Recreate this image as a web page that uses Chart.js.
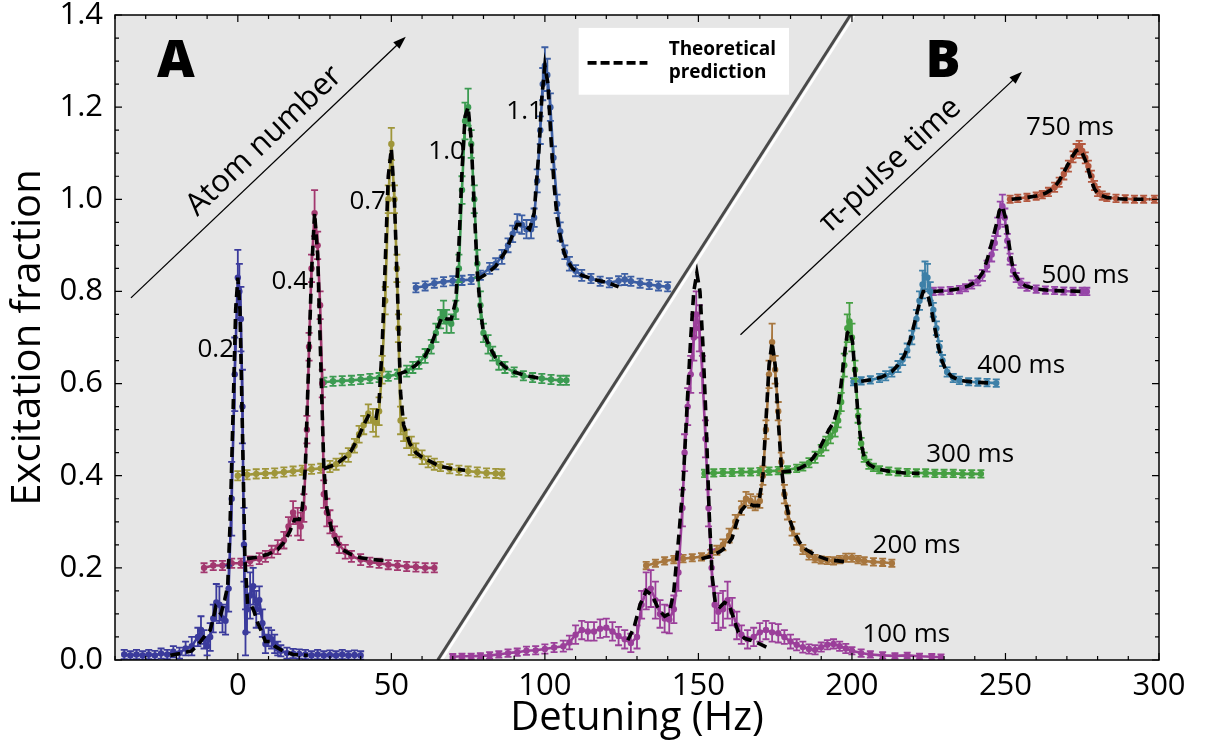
<!DOCTYPE html>
<html>
<head>
<meta charset="utf-8">
<script src="https://cdn.jsdelivr.net/npm/chart.js@4.4.1/dist/chart.umd.min.js"></script>
<style>
  html, body { margin: 0; padding: 0; background: #fff; }
</style>
</head>
<body>
<canvas id="chart" width="1208" height="753"></canvas>
<script>
'use strict';
// measured points as [detuning Hz, excitation fraction, error bar]
let atom02 = [[-37,0.012,0.01],[-35,0.01,0.009],[-33,0.012,0.01],[-31,0.01,0.009],[-29,0.012,0.01],[-27,0.01,0.01],[-25,0.014,0.011],[-23,0.012,0.01],[-21,0.018,0.012],[-19,0.015,0.012],[-17,0.025,0.015],[-15,0.03,0.02],[-13,0.05,0.02],[-12,0.065,0.03],[-11,0.045,0.02],[-10,0.03,0.02],[-9,0.05,0.03],[-8,0.09,0.03],[-7,0.125,0.04],[-6,0.12,0.04],[-5,0.09,0.03],[-4,0.085,0.03],[-3,0.155,0.05],[-2,0.35,0.08],[-1,0.62,0.08],[0,0.83,0.06],[0.5,0.80,0.06],[1,0.74,0.07],[1.5,0.55,0.08],[2,0.25,0.08],[2.5,0.06,0.05],[3,0.11,0.05],[4,0.14,0.05],[5,0.16,0.04],[6,0.11,0.04],[7,0.13,0.03],[8,0.08,0.03],[9,0.035,0.02],[10,0.05,0.02],[11,0.045,0.02],[12,0.035,0.02],[13,0.025,0.015],[14,0.02,0.012],[16,0.015,0.012],[18,0.014,0.01],[20,0.013,0.01],[22,0.012,0.01],[24,0.01,0.009],[26,0.012,0.01],[28,0.01,0.009],[30,0.011,0.01],[32,0.01,0.009],[34,0.012,0.01],[36,0.01,0.009],[38,0.011,0.01],[40,0.01,0.009]];
let atom04 = [[-11,0.20,0.01],[-8,0.205,0.01],[-5,0.205,0.01],[-2,0.21,0.01],[1,0.21,0.01],[4,0.215,0.01],[7,0.22,0.012],[9,0.225,0.012],[11,0.235,0.013],[13,0.245,0.015],[15,0.26,0.018],[16.5,0.29,0.02],[18,0.32,0.025],[19.5,0.30,0.03],[20.5,0.29,0.03],[21.5,0.33,0.03],[22.5,0.50,0.03],[23.2,0.68,0.03],[24,0.85,0.03],[25,0.97,0.05],[26,0.90,0.03],[26.8,0.77,0.03],[27.5,0.60,0.03],[28,0.36,0.03],[29,0.32,0.03],[30,0.30,0.025],[31.5,0.27,0.02],[33,0.25,0.018],[35,0.235,0.015],[37,0.225,0.012],[40,0.218,0.012],[43,0.212,0.01],[46,0.21,0.01],[49,0.207,0.01],[52,0.205,0.01],[55,0.203,0.01],[58,0.202,0.01],[61,0.20,0.01],[64,0.20,0.01]];
let atom07 = [[0,0.40,0.01],[3,0.402,0.01],[6,0.404,0.01],[9,0.405,0.01],[12,0.406,0.01],[15,0.408,0.01],[18,0.41,0.01],[21,0.412,0.01],[24,0.414,0.01],[27,0.416,0.01],[30,0.42,0.012],[32,0.425,0.012],[34,0.435,0.013],[36,0.445,0.015],[38,0.465,0.015],[39.5,0.49,0.018],[41,0.51,0.02],[42.5,0.535,0.02],[44,0.52,0.025],[45,0.515,0.03],[46,0.54,0.03],[47,0.63,0.03],[48,0.78,0.03],[49,1.0,0.03],[50,1.12,0.035],[51,1.0,0.03],[51.8,0.85,0.03],[52.3,0.72,0.03],[53,0.52,0.03],[54,0.50,0.025],[55,0.48,0.02],[56.5,0.465,0.02],[58,0.455,0.015],[60,0.44,0.015],[62,0.43,0.012],[64,0.425,0.012],[66,0.42,0.01],[69,0.415,0.01],[72,0.412,0.01],[75,0.41,0.01],[78,0.408,0.01],[81,0.406,0.01],[84,0.405,0.01],[86,0.404,0.01]];
let atom10 = [[28,0.603,0.01],[31,0.605,0.01],[34,0.606,0.01],[37,0.607,0.01],[40,0.609,0.01],[43,0.611,0.01],[46,0.613,0.01],[49,0.616,0.01],[52,0.62,0.01],[55,0.627,0.012],[57,0.635,0.012],[59,0.645,0.013],[61,0.66,0.015],[63,0.68,0.015],[64.5,0.71,0.02],[66,0.74,0.02],[67,0.755,0.025],[68,0.735,0.025],[69.5,0.73,0.02],[71,0.76,0.02],[72,0.85,0.03],[73,1.02,0.03],[74,1.17,0.04],[75,1.20,0.04],[76,1.12,0.03],[77,1.0,0.03],[78,0.86,0.03],[79,0.77,0.03],[80,0.71,0.02],[81.5,0.685,0.02],[83,0.665,0.015],[85,0.645,0.015],[87,0.635,0.012],[90,0.625,0.01],[93,0.617,0.01],[96,0.613,0.01],[99,0.611,0.01],[102,0.609,0.01],[105,0.607,0.01],[107,0.607,0.01]];
let atom11 = [[58,0.808,0.01],[61,0.812,0.01],[64,0.818,0.01],[67,0.821,0.01],[70,0.823,0.01],[73,0.824,0.01],[76,0.826,0.01],[79,0.835,0.01],[82,0.85,0.012],[84,0.86,0.012],[86,0.875,0.015],[88,0.9,0.015],[89.5,0.925,0.018],[91,0.948,0.02],[92.5,0.945,0.02],[94,0.935,0.02],[95.5,0.935,0.02],[96.5,0.96,0.02],[97.5,1.04,0.025],[98.5,1.15,0.03],[99.3,1.25,0.035],[100,1.29,0.04],[100.8,1.27,0.035],[101.8,1.2,0.03],[102.8,1.09,0.025],[104,0.99,0.02],[105,0.93,0.02],[106.5,0.885,0.015],[108,0.86,0.015],[110,0.845,0.012],[112,0.835,0.012],[115,0.828,0.01],[118,0.822,0.01],[121,0.819,0.01],[124,0.823,0.01],[126,0.826,0.012],[128,0.822,0.01],[131,0.818,0.01],[134,0.815,0.01],[137,0.812,0.01],[140,0.81,0.01]];
let pulse100 = [[70,0.007,0.006],[73,0.008,0.006],[76,0.008,0.006],[79,0.009,0.006],[82,0.01,0.007],[85,0.012,0.007],[88,0.015,0.008],[91,0.017,0.008],[94,0.02,0.009],[97,0.021,0.009],[100,0.024,0.01],[103,0.027,0.01],[106,0.03,0.012],[108,0.038,0.015],[110,0.055,0.02],[112,0.065,0.02],[114,0.062,0.02],[116,0.062,0.02],[118,0.068,0.02],[120,0.07,0.02],[122,0.062,0.02],[124,0.052,0.02],[126,0.045,0.02],[128,0.037,0.02],[130,0.05,0.025],[131.5,0.12,0.03],[133,0.15,0.04],[134.5,0.155,0.04],[136,0.13,0.04],[137.5,0.10,0.03],[139,0.09,0.03],[140.5,0.088,0.03],[142,0.11,0.03],[143.5,0.19,0.04],[144.8,0.33,0.04],[145.5,0.45,0.04],[146.5,0.55,0.04],[147.5,0.62,0.04],[148.5,0.7,0.05],[149.3,0.75,0.05],[150.3,0.72,0.05],[151.3,0.62,0.04],[152.3,0.48,0.04],[153.3,0.33,0.04],[154.3,0.2,0.04],[155.3,0.12,0.04],[156.5,0.105,0.04],[158,0.11,0.04],[159.5,0.13,0.04],[161,0.105,0.03],[162.5,0.075,0.03],[164,0.055,0.02],[166,0.045,0.02],[168,0.05,0.02],[170,0.06,0.02],[172,0.065,0.02],[174,0.06,0.02],[176,0.058,0.02],[178,0.05,0.015],[180,0.04,0.015],[182,0.033,0.012],[184,0.028,0.012],[186,0.024,0.01],[188,0.022,0.01],[190,0.028,0.01],[192,0.033,0.01],[194,0.035,0.01],[196,0.03,0.01],[198,0.025,0.01],[200,0.02,0.008],[203,0.015,0.008],[206,0.012,0.007],[210,0.01,0.007],[214,0.009,0.006],[218,0.01,0.006],[222,0.008,0.006],[226,0.007,0.006],[229,0.006,0.006]];
let pulse200 = [[133,0.205,0.008],[136,0.21,0.008],[139,0.215,0.008],[142,0.218,0.008],[145,0.22,0.008],[148,0.222,0.008],[151,0.224,0.008],[154,0.23,0.009],[156,0.238,0.01],[158,0.25,0.012],[160,0.27,0.015],[162,0.3,0.015],[164,0.33,0.015],[165.5,0.35,0.015],[167,0.345,0.015],[168.5,0.34,0.015],[170,0.345,0.015],[171,0.4,0.02],[172,0.5,0.02],[173,0.62,0.03],[174,0.69,0.04],[175,0.63,0.03],[176,0.54,0.02],[177,0.43,0.02],[178,0.36,0.02],[179,0.32,0.015],[180.5,0.285,0.015],[182,0.262,0.012],[184,0.24,0.01],[186,0.228,0.01],[188,0.22,0.008],[190,0.217,0.008],[192,0.216,0.008],[194,0.215,0.008],[196,0.218,0.008],[198,0.222,0.009],[200,0.222,0.009],[202,0.218,0.008],[204,0.215,0.008],[207,0.213,0.008],[210,0.212,0.008],[213,0.21,0.008]];
let pulse300 = [[152,0.405,0.008],[155,0.406,0.008],[158,0.407,0.008],[161,0.407,0.008],[164,0.408,0.008],[167,0.408,0.008],[170,0.409,0.008],[173,0.41,0.008],[176,0.411,0.008],[179,0.413,0.008],[182,0.416,0.008],[184,0.42,0.009],[186,0.428,0.01],[188,0.44,0.012],[190,0.455,0.012],[191.5,0.47,0.015],[193,0.485,0.015],[194.5,0.5,0.015],[195.5,0.52,0.015],[196.5,0.56,0.02],[197.5,0.64,0.025],[198.5,0.72,0.03],[199.2,0.735,0.04],[200,0.70,0.03],[201,0.63,0.02],[202,0.53,0.015],[203,0.47,0.012],[204,0.44,0.01],[205.5,0.425,0.01],[207,0.418,0.008],[209,0.413,0.008],[212,0.41,0.008],[215,0.408,0.008],[218,0.407,0.008],[221,0.406,0.008],[224,0.406,0.008],[227,0.405,0.008],[230,0.405,0.008],[233,0.405,0.008],[236,0.404,0.008],[239,0.404,0.008],[242,0.404,0.008]];
let pulse400 = [[200.5,0.604,0.008],[203,0.606,0.008],[206,0.608,0.008],[209,0.612,0.009],[211,0.617,0.01],[213,0.625,0.01],[215,0.637,0.012],[216.5,0.652,0.012],[218,0.672,0.015],[219.5,0.7,0.015],[221,0.74,0.02],[222,0.78,0.02],[223,0.815,0.03],[223.8,0.835,0.03],[224.6,0.83,0.03],[225.5,0.80,0.02],[226.5,0.76,0.015],[227.5,0.72,0.015],[228.5,0.68,0.012],[229.5,0.65,0.012],[231,0.625,0.01],[233,0.612,0.009],[235,0.607,0.008],[238,0.604,0.008],[241,0.603,0.008],[244,0.602,0.008],[247,0.601,0.008]];
let pulse500 = [[226.5,0.80,0.008],[229,0.801,0.008],[232,0.802,0.008],[235,0.804,0.008],[237,0.808,0.008],[239,0.815,0.009],[241,0.823,0.01],[242.5,0.835,0.012],[244,0.855,0.012],[245.5,0.88,0.015],[246.5,0.905,0.015],[247.5,0.94,0.02],[248.3,0.97,0.025],[249,0.985,0.025],[249.8,0.96,0.02],[250.6,0.91,0.015],[251.5,0.87,0.012],[252.5,0.845,0.012],[253.5,0.83,0.01],[255,0.818,0.01],[257,0.81,0.009],[260,0.805,0.008],[263,0.803,0.008],[266,0.802,0.008],[269,0.801,0.008],[272,0.80,0.008],[275,0.80,0.008],[276.5,0.80,0.008]];
let pulse750 = [[251.5,1.0,0.008],[254,1.002,0.008],[257,1.004,0.008],[260,1.007,0.008],[262,1.01,0.008],[264,1.016,0.009],[266,1.026,0.01],[267.5,1.037,0.01],[269,1.055,0.012],[270.5,1.072,0.012],[272,1.092,0.012],[273,1.105,0.015],[274,1.112,0.015],[275,1.105,0.015],[276,1.09,0.012],[277,1.072,0.012],[278,1.05,0.012],[279,1.03,0.01],[280,1.017,0.01],[281.5,1.008,0.009],[283,1.004,0.008],[286,1.002,0.008],[289,1.001,0.008],[292,1.0,0.008],[295,1.0,0.008],[298.5,1.0,0.008]];

// theoretical prediction curves as [detuning Hz, excitation fraction]
let theory02 = [[-22,0.01],[-18,0.015],[-15,0.02],[-13,0.033],[-11,0.05],[-9,0.065],[-8,0.09],[-7.2,0.115],[-5.5,0.1],[-4.3,0.13],[-3.3,0.16],[-2.5,0.3],[-1.5,0.55],[-0.7,0.76],[0,0.83],[0.7,0.76],[1.5,0.5],[2.3,0.22],[3.2,0.12],[4.3,0.12],[5.3,0.105],[6.5,0.08],[7.5,0.065],[9,0.04],[10.4,0.04],[12,0.03],[14.6,0.02],[18,0.012],[22.8,0.01]];
let theory04 = [[3,0.22],[7,0.224],[10,0.23],[13,0.24],[15,0.255],[17,0.28],[18.5,0.305],[20,0.305],[21,0.33],[22,0.42],[23,0.63],[24,0.84],[25,0.97],[26,0.88],[27,0.65],[28,0.42],[29,0.33],[30.5,0.285],[32,0.258],[34,0.24],[37,0.229],[40,0.222],[44,0.218],[48.8,0.215]];
let theory07 = [[28,0.415],[32,0.425],[35,0.44],[37,0.455],[39,0.48],[41,0.51],[42.5,0.53],[44,0.525],[45,0.525],[46,0.56],[47,0.68],[48,0.86],[49,1.05],[50,1.11],[51,1.0],[52,0.8],[53,0.58],[54,0.51],[55,0.49],[56,0.47],[58,0.45],[60,0.44],[63,0.43],[66,0.42],[70,0.415],[74,0.412]];
let theory10 = [[52,0.62],[55,0.627],[58,0.64],[61,0.66],[63,0.685],[65,0.72],[66.5,0.745],[68,0.74],[69.5,0.74],[71,0.78],[72,0.9],[73,1.06],[74,1.18],[75,1.2],[76,1.13],[77,0.98],[78,0.84],[79,0.76],[80,0.71],[82,0.68],[84,0.655],[87,0.636],[90,0.625],[94,0.617],[98,0.612]];
let theory11 = [[78,0.826],[81,0.838],[84,0.855],[87,0.885],[89,0.915],[91,0.945],[93,0.945],[95,0.935],[96.5,0.97],[98,1.1],[99,1.22],[100,1.29],[101,1.25],[102,1.13],[103,1.03],[104,0.96],[105.5,0.9],[107,0.87],[109,0.85],[112,0.835],[116,0.826],[120,0.82],[124,0.81]];
let theory100 = [[127,0.043],[129,0.07],[131,0.12],[133,0.15],[135,0.14],[137,0.11],[139,0.095],[140.5,0.1],[142,0.15],[143.5,0.26],[145,0.38],[146.3,0.55],[147.5,0.7],[148.5,0.8],[149.5,0.84],[150.5,0.8],[151.5,0.68],[152.5,0.52],[153.5,0.32],[154.5,0.18],[155.5,0.125],[157,0.115],[158.5,0.125],[160,0.12],[161.5,0.09],[163,0.06],[165,0.047],[167,0.043],[170,0.035],[173,0.025]];
let theory200 = [[151,0.22],[154,0.225],[157,0.235],[159,0.245],[161,0.265],[162.5,0.3],[164,0.325],[166,0.34],[168,0.335],[169.5,0.335],[171,0.4],[172,0.52],[173,0.64],[174,0.69],[175,0.64],[176,0.52],[177,0.42],[178,0.36],[179.5,0.31],[181,0.28],[183,0.255],[185,0.24],[188,0.228],[192,0.218],[198,0.213]];
let theory300 = [[177,0.408],[180,0.41],[183,0.416],[185.5,0.425],[187.5,0.44],[189.5,0.46],[191,0.48],[192.5,0.5],[194,0.515],[195.5,0.55],[196.5,0.6],[197.5,0.66],[198.5,0.71],[199.3,0.715],[200.2,0.69],[201,0.62],[202,0.53],[203,0.47],[204,0.44],[205.5,0.425],[208,0.415],[212,0.41],[217,0.406],[222,0.405]];
let theory400 = [[203,0.605],[207,0.609],[210,0.615],[213,0.626],[215,0.64],[217,0.66],[219,0.695],[220.5,0.735],[222,0.775],[223.2,0.8],[224,0.8],[225,0.785],[226,0.755],[227,0.72],[228,0.685],[229,0.655],[230.5,0.63],[232.5,0.615],[235,0.607],[240,0.603],[246,0.601]];
let theory500 = [[226.5,0.80],[231,0.802],[235,0.806],[238,0.812],[240.5,0.822],[242.5,0.84],[244,0.868],[245.5,0.905],[247,0.945],[248,0.975],[249,0.985],[250,0.96],[251,0.91],[252,0.865],[253,0.838],[254.5,0.822],[256.5,0.812],[260,0.805],[265,0.802],[270,0.801],[275,0.80]];
let theory750 = [[252,1.0],[256,1.003],[260,1.007],[263,1.013],[265.5,1.023],[267.5,1.04],[269.5,1.065],[271.5,1.09],[273,1.105],[274,1.108],[275,1.1],[276,1.085],[277,1.063],[278,1.04],[279,1.022],[280.5,1.01],[283,1.004],[287,1.001],[292,1.0],[297,1.0]];

let xTickValues = [0, 50, 100, 150, 200, 250, 300];
let yTickValues = [0, 0.2, 0.4, 0.6, 0.8, 1.0, 1.2, 1.4];
let atomLabels = ['0.2', '0.4', '0.7', '1.0', '1.1'];
let pulseLabels = ['100 ms', '200 ms', '300 ms', '400 ms', '500 ms', '750 ms'];

let measured = [atom02, atom04, atom07, atom10, atom11, pulse100, pulse200, pulse300, pulse400, pulse500, pulse750];
let theories = [theory02, theory04, theory07, theory10, theory11, theory100, theory200, theory300, theory400, theory500, theory750];
let colors = ['#3b3b9c', '#a2386f', '#9f963a', '#3c9b52', '#3d5fa4', '#9b3f9a', '#a8773f', '#46a043', '#3e80a8', '#9646a8', '#b4583f'];

let FONT = '"Open Sans", "DejaVu Sans", sans-serif';

let datasets = [];
for (let i = 0; i < measured.length; i++) {
  datasets.push({
    data: measured[i].map(p => ({x: p[0], y: p[1]})),
    errs: measured[i].map(p => p[2]),
    showLine: true,
    borderColor: colors[i],
    backgroundColor: colors[i],
    borderWidth: 2.6,
    pointRadius: 3.2,
    pointBorderWidth: 0,
    order: 1
  });
}
for (let i = 0; i < theories.length; i++) {
  datasets.push({
    data: theories[i].map(p => ({x: p[0], y: p[1]})),
    showLine: true,
    borderColor: '#000',
    borderWidth: 3.6,
    borderDash: [10, 6],
    pointRadius: 0,
    order: 0
  });
}

// error bars drawn from the dataset's errs array through the chart scales
let errorBars = {
  id: 'errorBars',
  afterDatasetDraw(chart, args) {
    let ds = chart.data.datasets[args.index];
    if (!ds.errs) return;
    let ctx = chart.ctx;
    let xs = chart.scales.x;
    let ys = chart.scales.y;
    let area = chart.chartArea;
    ctx.save();
    ctx.beginPath();
    ctx.rect(area.left, area.top, area.right - area.left, area.bottom - area.top);
    ctx.clip();
    ctx.strokeStyle = ds.borderColor;
    ctx.lineWidth = 1.8;
    ds.data.forEach((p, i) => {
      let e = ds.errs[i];
      let x = xs.getPixelForValue(p.x);
      let y1 = ys.getPixelForValue(p.y - e);
      let y2 = ys.getPixelForValue(p.y + e);
      ctx.beginPath();
      ctx.moveTo(x, y1); ctx.lineTo(x, y2);
      ctx.moveTo(x - 3.5, y1); ctx.lineTo(x + 3.5, y1);
      ctx.moveTo(x - 3.5, y2); ctx.lineTo(x + 3.5, y2);
      ctx.stroke();
    });
    ctx.restore();
  }
};

// grey panel behind the data
let panelBackground = {
  id: 'panelBackground',
  beforeDraw(chart) {
    let ctx = chart.ctx;
    let a = chart.chartArea;
    ctx.save();
    ctx.fillStyle = '#fff';
    ctx.fillRect(0, 0, chart.width, chart.height);
    ctx.fillStyle = '#e6e6e6';
    ctx.fillRect(a.left, a.top, a.right - a.left, a.bottom - a.top);
    ctx.restore();
  }
};

function drawArrow(ctx, x1, y1, x2, y2) {
  let ang = Math.atan2(y2 - y1, x2 - x1);
  ctx.beginPath();
  ctx.moveTo(x1, y1);
  ctx.lineTo(x2 - 8 * Math.cos(ang), y2 - 8 * Math.sin(ang));
  ctx.stroke();
  ctx.beginPath();
  ctx.moveTo(x2, y2);
  ctx.lineTo(x2 - 13 * Math.cos(ang) + 4.5 * Math.sin(ang), y2 - 13 * Math.sin(ang) - 4.5 * Math.cos(ang));
  ctx.lineTo(x2 - 13 * Math.cos(ang) - 4.5 * Math.sin(ang), y2 - 13 * Math.sin(ang) + 4.5 * Math.cos(ang));
  ctx.closePath();
  ctx.fill();
}

function arrowText(ctx, x1, y1, x2, y2, t, off, text) {
  let ang = Math.atan2(y2 - y1, x2 - x1);
  let cx = x1 + (x2 - x1) * t + off * Math.sin(ang);
  let cy = y1 + (y2 - y1) * t - off * Math.cos(ang);
  ctx.save();
  ctx.translate(cx, cy);
  ctx.rotate(ang);
  ctx.textAlign = 'center';
  ctx.textBaseline = 'alphabetic';
  ctx.fillText(text, 0, 0);
  ctx.restore();
}

// separator, arrows, panel letters, curve labels and the legend box
let annotations = {
  id: 'annotations',
  afterDatasetsDraw(chart) {
    let ctx = chart.ctx;
    let X = v => chart.scales.x.getPixelForValue(v);
    let Y = v => chart.scales.y.getPixelForValue(v);
    let a = chart.chartArea;
    ctx.save();
    ctx.beginPath();
    ctx.rect(a.left, a.top, a.right - a.left, a.bottom - a.top);
    ctx.clip();

    // separator between panels
    ctx.lineCap = 'butt';
    ctx.strokeStyle = '#fff';
    ctx.lineWidth = 2.5;
    ctx.beginPath();
    ctx.moveTo(X(65.1) + 4, Y(0)); ctx.lineTo(X(199.5) + 4, Y(1.4));
    ctx.stroke();
    ctx.strokeStyle = '#4a4a4a';
    ctx.lineWidth = 3;
    ctx.beginPath();
    ctx.moveTo(X(65.1), Y(0)); ctx.lineTo(X(199.5), Y(1.4));
    ctx.stroke();

    // arrows
    ctx.strokeStyle = '#000';
    ctx.fillStyle = '#000';
    ctx.lineWidth = 1.3;
    let aA = [X(-34.8), Y(0.786), X(54.7), Y(1.353)];
    let aB = [X(163.7), Y(0.706), X(255.4), Y(1.277)];
    drawArrow(ctx, aA[0], aA[1], aA[2], aA[3]);
    drawArrow(ctx, aB[0], aB[1], aB[2], aB[3]);
    ctx.font = '31px ' + FONT;
    arrowText(ctx, aA[0], aA[1], aA[2], aA[3], 0.54, 13, 'Atom number');
    arrowText(ctx, aB[0], aB[1], aB[2], aB[3], 0.585, 13, '\u03c0-pulse time');

    // panel letters
    ctx.font = '800 52px ' + FONT;
    ctx.textAlign = 'center';
    ctx.textBaseline = 'middle';
    ctx.fillText('A', X(-20.2), Y(1.298));
    ctx.fillText('B', X(229.7), Y(1.298));

    // curve labels
    ctx.font = '26px ' + FONT;
    let atomPos = [[-7.2, 0.673], [16.9, 0.821], [42.3, 0.995], [68, 1.103], [93.4, 1.19]];
    atomLabels.forEach((s, i) => ctx.fillText(s, X(atomPos[i][0]), Y(atomPos[i][1])));
    let pulsePos = [[217.7, 0.056], [221, 0.248], [238.5, 0.445], [255.1, 0.638], [276, 0.834], [271, 1.155]];
    pulseLabels.forEach((s, i) => ctx.fillText(s, X(pulsePos[i][0]), Y(pulsePos[i][1])));

    // legend box
    ctx.fillStyle = '#fff';
    ctx.fillRect(X(111), Y(1.372), X(179.5) - X(111), Y(1.227) - Y(1.372));
    ctx.strokeStyle = '#000';
    ctx.lineWidth = 3.6;
    ctx.setLineDash([9, 4]);
    ctx.beginPath();
    ctx.moveTo(X(113.9), Y(1.296)); ctx.lineTo(X(133.4), Y(1.296));
    ctx.stroke();
    ctx.setLineDash([]);
    ctx.fillStyle = '#000';
    ctx.font = 'bold 19px ' + FONT;
    ctx.textAlign = 'left';
    ctx.textBaseline = 'alphabetic';
    ctx.fillText('Theoretical', X(140.3), Y(1.314));
    ctx.fillText('prediction', X(140.3), Y(1.264));
    ctx.restore();
  }
};

// frame with inward ticks on all four sides
let frameTicks = {
  id: 'frameTicks',
  afterDraw(chart) {
    let ctx = chart.ctx;
    let a = chart.chartArea;
    let xs = chart.scales.x;
    let ys = chart.scales.y;
    ctx.save();
    ctx.strokeStyle = '#000';
    ctx.lineWidth = 1.5;
    ctx.strokeRect(a.left, a.top, a.right - a.left, a.bottom - a.top);
    ctx.lineWidth = 1.2;
    ctx.beginPath();
    for (let v = -40; v <= 300; v += 10) {
      let x = xs.getPixelForValue(v);
      let len = v % 50 === 0 ? 7 : 4;
      ctx.moveTo(x, a.bottom); ctx.lineTo(x, a.bottom - len);
      ctx.moveTo(x, a.top); ctx.lineTo(x, a.top + len);
    }
    for (let k = 0; k <= 28; k++) {
      let y = ys.getPixelForValue(k * 0.05);
      let len = k % 4 === 0 ? 7 : 4;
      ctx.moveTo(a.left, y); ctx.lineTo(a.left + len, y);
      ctx.moveTo(a.right, y); ctx.lineTo(a.right - len, y);
    }
    ctx.stroke();
    ctx.restore();
  }
};

new Chart(document.getElementById('chart'), {
  type: 'scatter',
  data: { datasets: datasets },
  options: {
    responsive: false,
    animation: false,
    layout: { padding: { top: 15, right: 49, left: 0, bottom: 0 } },
    plugins: { legend: { display: false }, tooltip: { enabled: false } },
    scales: {
      x: {
        type: 'linear',
        min: -40,
        max: 300,
        afterBuildTicks: s => { s.ticks = xTickValues.map(v => ({ value: v })); },
        afterFit: s => { s.height = 93; s.paddingLeft = 0; s.paddingRight = 0; },
        grid: { display: false, drawTicks: false },
        border: { display: false },
        ticks: { color: '#000', padding: 8, font: { family: FONT, size: 31 }, callback: v => String(v) },
        title: { display: true, text: 'Detuning (Hz)', color: '#000', font: { family: FONT, size: 40 }, padding: { top: 0, bottom: 10 } }
      },
      y: {
        type: 'linear',
        min: 0,
        max: 1.4,
        afterBuildTicks: s => { s.ticks = yTickValues.map(v => ({ value: v })); },
        afterFit: s => { s.width = 115; s.paddingTop = 0; s.paddingBottom = 0; },
        grid: { display: false, drawTicks: false },
        border: { display: false },
        ticks: { color: '#000', padding: 12, font: { family: FONT, size: 31 }, callback: v => v.toFixed(1) },
        title: { display: true, text: 'Excitation fraction', color: '#000', font: { family: FONT, size: 40 }, padding: { top: 5, bottom: 0 } }
      }
    }
  },
  plugins: [panelBackground, errorBars, annotations, frameTicks]
});
</script>
</body>
</html>
